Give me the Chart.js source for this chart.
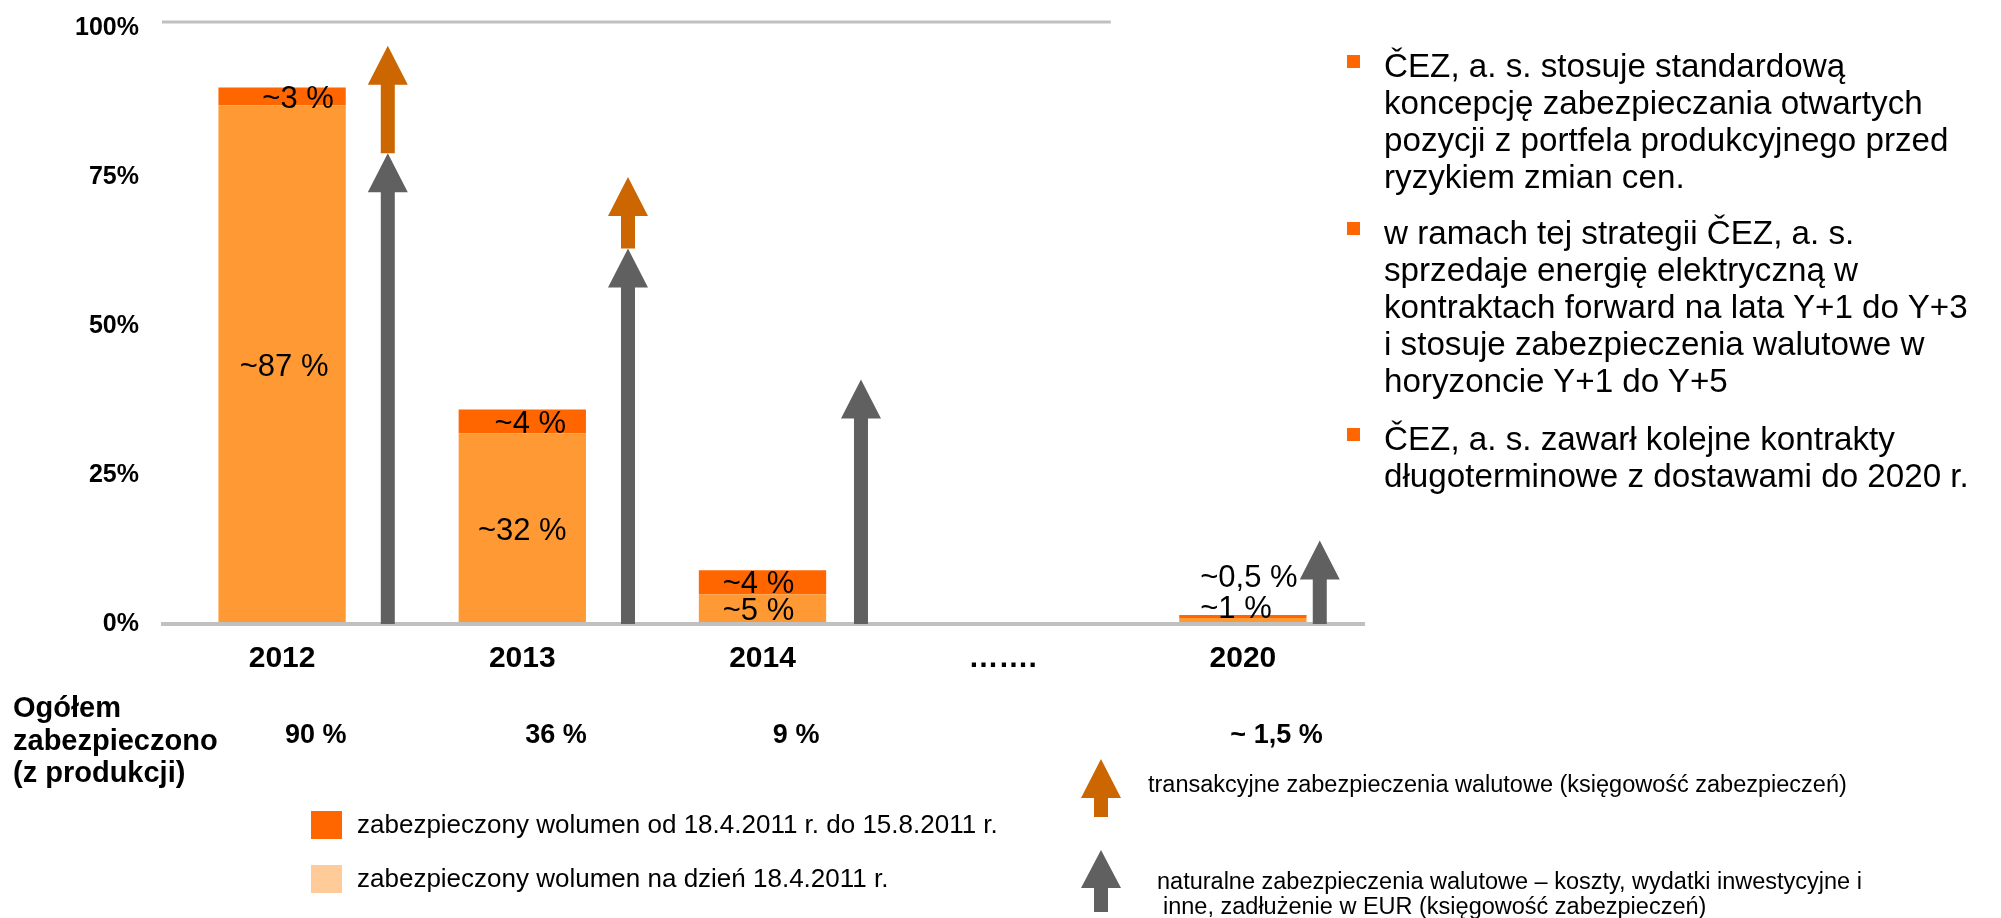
<!DOCTYPE html>
<html>
<head>
<meta charset="utf-8">
<script src="https://cdn.jsdelivr.net/npm/chart.js@4.4.0/dist/chart.umd.min.js"></script>
<style>
html,body{margin:0;padding:0;background:#fff;}
#wrap{position:relative;width:2001px;height:918px;overflow:hidden;font-family:"Liberation Sans",Arial,sans-serif;color:#000;}
#c{position:absolute;left:0;top:0;}
.t{position:absolute;white-space:nowrap;}
.bul{left:1384px;font-size:33.2px;line-height:37px;}
.bsq{position:absolute;left:1347px;width:13px;height:13px;background:#FF6600;}
.tot{left:13px;font-size:29px;line-height:32.5px;font-weight:bold;}
.leg{left:357px;font-size:26px;line-height:30px;}
.lsq{position:absolute;left:311px;width:31px;height:28px;}
.aleg{font-size:23.5px;line-height:22px;}
</style>
</head>
<body>
<div id="wrap">
<canvas id="c" width="2001" height="918" style="width:2001px;height:918px"></canvas>

<div class="bsq" style="top:55px"></div>
<div class="t bul" style="top:47px">ČEZ, a. s. stosuje standardową<br>koncepcję zabezpieczania otwartych<br>pozycji z portfela produkcyjnego przed<br>ryzykiem zmian cen.</div>
<div class="bsq" style="top:222px"></div>
<div class="t bul" style="top:214px">w ramach tej strategii ČEZ, a. s.<br>sprzedaje energię elektryczną w<br>kontraktach forward na lata Y+1 do Y+3<br>i stosuje zabezpieczenia walutowe w<br>horyzoncie Y+1 do Y+5</div>
<div class="bsq" style="top:428px"></div>
<div class="t bul" style="top:420px">ČEZ, a. s. zawarł kolejne kontrakty<br>długoterminowe z dostawami do 2020 r.</div>

<div class="t tot" style="top:691px">Ogółem<br>zabezpieczono<br>(z produkcji)</div>

<div class="lsq" style="top:811px;background:#FF6600"></div>
<div class="t leg" style="top:809px">zabezpieczony wolumen od 18.4.2011 r. do 15.8.2011 r.</div>
<div class="lsq" style="top:865px;background:#FFCC99"></div>
<div class="t leg" style="top:863px">zabezpieczony wolumen na dzień 18.4.2011 r.</div>

<svg style="position:absolute;left:0;top:0" width="2001" height="918">
  <polygon points="1101,759 1121,798 1108,798 1108,817 1094,817 1094,798 1081,798" fill="#CC6600"/>
  <polygon points="1101,850 1121,888 1108,888 1108,912 1094,912 1094,888 1081,888" fill="#606060"/>
</svg>
<div class="t aleg" style="left:1148px;top:773px">transakcyjne zabezpieczenia walutowe (księgowość zabezpieczeń)</div>
<div class="t aleg" style="left:1157px;top:870px">naturalne zabezpieczenia walutowe – koszty, wydatki inwestycyjne i</div>
<div class="t aleg" style="left:1163px;top:895px">inne, zadłużenie w EUR (księgowość zabezpieczeń)</div>
</div>

<script>
// ---- data ----
const categories = ['2012', '2013', '2014', '…….', '2020'];
const hedgedBefore = [87, 32, 5, null, 1];        // zabezpieczony wolumen na dzień 18.4.2011 r.
const hedgedNew = [3, 4, 4, null, 0.5];           // zabezpieczony wolumen od 18.4.2011 r. do 15.8.2011 r.
const labelsBefore = ['~87 %', '~32 %', '~5 %', '', '~1 %'];
const labelsNew = ['~3 %', '~4 %', '~4 %', '', '~0,5 %'];
const totals = ['90 %', '36 %', '9 %', '', '~ 1,5 %'];
const naturalArrowTop = [79, 63, 41, null, 14];    // naturalne zabezpieczenia walutowe
const transactArrowTop = [97, 75, null, null, null]; // transakcyjne zabezpieczenia walutowe
const yTickValues = [0, 25, 50, 75, 100];

// ---- styling ----
const arrowOffsets = [0.44, 0.44, 0.41, 0, 0.32]; // fraction of category width right of centre
const labelShift = [[2, 0, -4, 0, 0], [16, 8, -4, 0, 0]]; // px nudges of segment labels
const FONT = '"Liberation Sans", Arial, sans-serif';

function drawArrow(ctx, x, yBase, yTip, color) {
  const sw = 14, hw = 40, hh = 39;
  ctx.fillStyle = color;
  ctx.beginPath();
  ctx.moveTo(x - sw / 2, yBase);
  ctx.lineTo(x - sw / 2, yTip + hh);
  ctx.lineTo(x - hw / 2, yTip + hh);
  ctx.lineTo(x, yTip);
  ctx.lineTo(x + hw / 2, yTip + hh);
  ctx.lineTo(x + sw / 2, yTip + hh);
  ctx.lineTo(x + sw / 2, yBase);
  ctx.closePath();
  ctx.fill();
}

const overlay = {
  id: 'overlay',
  beforeDatasetsDraw(chart) {
    const {ctx, chartArea: ca, scales: {x: xs}} = chart;
    const catW = (ca.right - ca.left) / categories.length;
    ctx.save();
    ctx.fillStyle = '#C0C0C0';
    ctx.fillRect(ca.left, ca.top - 1.5, xs.getPixelForValue(3) + 0.45 * catW - ca.left, 3);
    ctx.restore();
  },
  afterDatasetsDraw(chart) {
    const {ctx, chartArea: ca, scales: {x: xs, y: ys}} = chart;
    const catW = (ca.right - ca.left) / categories.length;
    const y0 = ys.getPixelForValue(0);
    ctx.save();
    // baseline axis
    ctx.fillStyle = '#C0C0C0';
    ctx.fillRect(ca.left - 1, y0 - 2, ca.right - ca.left + 3, 4);

    // segment labels
    const segLabels = [labelsBefore, labelsNew];
    const fs = 31;
    ctx.font = fs + 'px ' + FONT;
    ctx.fillStyle = '#000';
    ctx.textBaseline = 'alphabetic';
    for (let i = 0; i < categories.length; i++) {
      let small = 0;
      let sum = 0;
      chart.data.datasets.forEach(ds => { sum += ds.data[i] || 0; });
      const stackTop = ys.getPixelForValue(sum);
      chart.data.datasets.forEach((ds, d) => {
        const el = chart.getDatasetMeta(d).data[i];
        const txt = segLabels[d][i];
        if (!el || !txt || ds.data[i] == null) return;
        const top = Math.min(el.y, el.base), bot = Math.max(el.y, el.base);
        if (bot - top >= 14) {
          ctx.textAlign = 'center';
          ctx.fillText(txt, el.x + labelShift[d][i], (top + bot) / 2 + fs * 0.36);
        } else {
          ctx.textAlign = 'left';
          const cy = stackTop - 8 - 31 * small;
          ctx.fillText(txt, el.x - el.width / 2 + 21, cy + fs * 0.36);
          small++;
        }
      });
    }

    // arrows
    for (let i = 0; i < categories.length; i++) {
      if (naturalArrowTop[i] == null) continue;
      const ax = xs.getPixelForValue(i) + arrowOffsets[i] * catW;
      const gTip = ys.getPixelForValue(naturalArrowTop[i]);
      drawArrow(ctx, ax, y0, gTip, '#606060');
      if (transactArrowTop[i] != null) {
        drawArrow(ctx, ax, gTip, ys.getPixelForValue(transactArrowTop[i]), '#CC6600');
      }
    }

    // totals row
    ctx.font = 'bold 27px ' + FONT;
    ctx.textAlign = 'center';
    ctx.fillStyle = '#000';
    for (let i = 0; i < categories.length; i++) {
      if (!totals[i]) continue;
      ctx.fillText(totals[i], xs.getPixelForValue(i) + 0.14 * catW, y0 + 119);
    }
    ctx.restore();
  }
};

new Chart(document.getElementById('c'), {
  type: 'bar',
  data: {
    labels: categories,
    datasets: [
      { label: 'zabezpieczony wolumen na dzień 18.4.2011 r.', data: hedgedBefore, backgroundColor: '#FF9933', stack: 's' },
      { label: 'zabezpieczony wolumen od 18.4.2011 r. do 15.8.2011 r.', data: hedgedNew, backgroundColor: '#FF6600', stack: 's' }
    ]
  },
  options: {
    responsive: false,
    animation: false,
    devicePixelRatio: 1,
    layout: { padding: { left: 0, right: 638, top: 22, bottom: 0 } },
    plugins: { legend: { display: false }, tooltip: { enabled: false } },
    datasets: { bar: { categoryPercentage: 1, barPercentage: 0.53 } },
    scales: {
      x: {
        stacked: true,
        grid: { display: false, drawTicks: true, tickLength: 17 },
        border: { display: false },
        ticks: { color: '#000', padding: 0, font: { family: FONT, size: 30, weight: 'bold' } },
        afterFit(s) { s.height = 294; }
      },
      y: {
        stacked: true,
        min: 0,
        max: 101,
        grid: { display: false, drawTicks: true, tickLength: 23 },
        border: { display: false },
        afterBuildTicks(s) { s.ticks = yTickValues.map(v => ({ value: v })); },
        ticks: { color: '#000', padding: 0, font: { family: FONT, size: 25, weight: 'bold' }, callback: v => v + '%' },
        afterFit(s) { s.width = 162; }
      }
    }
  },
  plugins: [overlay]
});
</script>
</body>
</html>
